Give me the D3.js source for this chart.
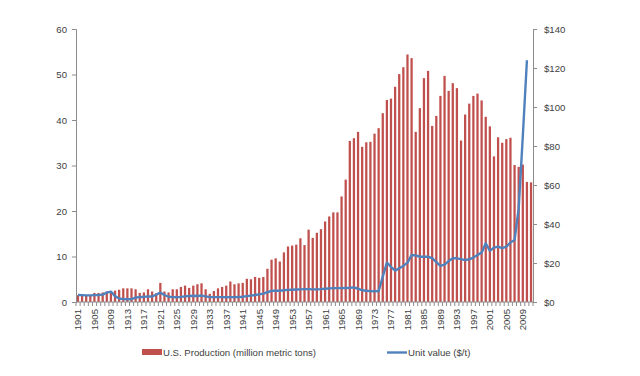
<!DOCTYPE html>
<html>
<head>
<meta charset="utf-8">
<script src="https://cdn.jsdelivr.net/npm/d3@7"></script>
<style>
  body { margin: 0; background: #fff; }
  svg text { font-family: "Liberation Sans", Arial, sans-serif; fill: #404040; }
</style>
</head>
<body>
<svg id="chart" width="640" height="376"></svg>
<script>
'use strict';

var firstYear = 1901;
var lastYear = 2011;

// U.S. production, million metric tons (1901..2011)
var production = [
  1.5, 1.4, 1.4, 1.5, 2.0, 2.0, 2.1, 2.3, 2.3, 2.5,
  2.7, 3.0, 3.0, 3.0, 2.8, 2.0, 2.1, 2.8, 2.3, 1.9,
  4.2, 2.3, 2.1, 2.8, 2.8, 3.3, 3.6, 3.1, 3.6, 3.9,
  4.1, 2.8, 1.8, 2.4, 3.0, 3.3, 3.6, 4.5, 3.9, 4.1,
  4.2, 5.1, 5.0, 5.5, 5.3, 5.5, 7.3, 9.3, 9.6, 8.9,
  10.9, 12.2, 12.4, 12.6, 14.0, 12.5, 15.9, 14.1, 15.2, 16.0,
  17.7, 18.8, 19.7, 19.7, 23.2, 26.9, 35.4, 36.0, 37.4, 34.1,
  35.1, 35.2, 37.0, 38.2, 41.5, 44.4, 44.7, 47.3, 50.1, 51.6,
  54.4, 53.6, 37.4, 42.6, 49.2, 50.8, 38.7, 40.9, 45.3, 49.7,
  46.4, 48.1, 47.0, 35.5, 41.2, 43.6, 45.3, 45.8, 44.3, 40.7,
  38.6, 32.0, 36.2, 35.0, 35.8, 36.1, 30.1, 29.7, 30.2, 26.4,
  26.3
];

// Unit value, $/t (1901..2010, no value for 2011)
var unitValue = [
  3.6, 3.5, 3.4, 3.4, 3.5, 3.6, 3.8, 4.8, 5.3, 3.0,
  1.8, 1.5, 1.4, 1.5, 2.2, 2.6, 2.6, 2.8, 2.8, 3.8,
  4.8, 3.6, 2.7, 2.5, 2.4, 2.6, 2.9, 3.1, 3.2, 3.1,
  3.3, 2.9, 2.5, 2.5, 2.5, 2.5, 2.4, 2.5, 2.5, 2.6,
  2.7, 3.0, 3.3, 3.6, 3.9, 4.3, 5.0, 5.7, 5.8, 5.8,
  6.0, 6.2, 6.3, 6.4, 6.5, 6.6, 6.6, 6.5, 6.5, 6.6,
  6.8, 7.0, 7.1, 7.1, 7.1, 7.2, 7.3, 7.5, 6.8, 6.0,
  5.8, 5.6, 5.5, 5.6, 13.0, 20.2, 18.0, 16.1, 17.3, 18.5,
  20.2, 24.1, 23.9, 23.2, 23.2, 23.2, 22.5, 20.5, 18.5, 19.2,
  21.0, 22.4, 22.4, 22.0, 21.5, 21.9, 22.8, 24.1, 25.3, 30.1,
  26.3, 27.9, 28.4, 27.6, 28.4, 30.5, 31.8, 48.0, 85.0, 124.0,
  null
];

var leftTicks = [0, 10, 20, 30, 40, 50, 60];
var rightTicks = [0, 20, 40, 60, 80, 100, 120, 140];

var years = d3.range(firstYear, lastYear + 1);
var labelYears = years.filter(function(y) { return (y - firstYear) % 4 === 0; });

var margin = { top: 29, left: 76, right: 107, bottom: 74 };
var width = 640, height = 376;
var innerW = width - margin.left - margin.right;
var innerH = height - margin.top - margin.bottom;

var svg = d3.select('#chart');
var g = svg.append('g').attr('transform', 'translate(' + margin.left + ',' + margin.top + ')');

var x = d3.scaleBand().domain(years).range([0, innerW]).paddingInner(0.45).paddingOuter(0.2);
var yLeft = d3.scaleLinear().domain([0, 60]).range([innerH, 0]);
var yRight = d3.scaleLinear().domain([0, 140]).range([innerH, 0]);

var axisColor = '#8c8c8c';
var fontSize = '9.6px';

// bars
g.selectAll('rect.bar')
    .data(years)
  .enter().append('rect')
    .attr('class', 'bar')
    .attr('x', function(d) { return x(d); })
    .attr('width', x.bandwidth())
    .attr('y', function(d, i) { return yLeft(production[i]); })
    .attr('height', function(d, i) { return innerH - yLeft(production[i]); })
    .attr('fill', '#C0504D');

// line
var line = d3.line()
    .defined(function(d) { return d.v !== null; })
    .x(function(d) { return x(d.year) + x.bandwidth() / 2; })
    .y(function(d) { return yRight(d.v); });

g.append('path')
    .datum(years.map(function(y, i) { return { year: y, v: unitValue[i] }; }))
    .attr('d', line)
    .attr('fill', 'none')
    .attr('stroke', '#4F81BD')
    .attr('stroke-width', 2.4)
    .attr('stroke-linejoin', 'round');

// left axis
var leftAxis = g.append('g')
    .call(d3.axisLeft(yLeft).tickValues(leftTicks).tickSize(4).tickPadding(5));
leftAxis.selectAll('text').style('font-size', fontSize);

// right axis
var rightAxis = g.append('g')
    .attr('transform', 'translate(' + innerW + ',0)')
    .call(d3.axisRight(yRight).tickValues(rightTicks).tickSize(4).tickPadding(7)
      .tickFormat(function(d) { return '$' + d; }));
rightAxis.selectAll('text').style('font-size', fontSize);

// bottom axis: tick at every category boundary, label every 4th year
var bottom = g.append('g').attr('transform', 'translate(0,' + innerH + ')');
bottom.append('line')
    .attr('x1', 0).attr('x2', innerW)
    .attr('stroke', axisColor);
var step = x.step();
bottom.selectAll('line.tick')
    .data(d3.range(years.length + 1))
  .enter().append('line')
    .attr('class', 'tick')
    .attr('x1', function(i) { return i * innerW / years.length; })
    .attr('x2', function(i) { return i * innerW / years.length; })
    .attr('y1', 0).attr('y2', 4)
    .attr('stroke', axisColor);
bottom.selectAll('text')
    .data(labelYears)
  .enter().append('text')
    .attr('transform', function(d) {
      return 'translate(' + (x(d) + x.bandwidth() / 2 + 3.5) + ',7) rotate(-90)';
    })
    .attr('text-anchor', 'end')
    .style('font-size', fontSize)
    .text(function(d) { return d; });

[leftAxis, rightAxis].forEach(function(a) {
  a.select('.domain').attr('stroke', axisColor);
  a.selectAll('.tick line').attr('stroke', axisColor);
});

// legend
var legend = svg.append('g').attr('transform', 'translate(0,352)');
legend.append('rect')
    .attr('x', 142).attr('y', -3).attr('width', 20).attr('height', 6)
    .attr('fill', '#C0504D');
legend.append('text')
    .attr('x', 163).attr('y', 3.5)
    .style('font-size', fontSize)
    .text('U.S. Production (million metric tons)');
legend.append('line')
    .attr('x1', 387).attr('x2', 407).attr('y1', 0.5).attr('y2', 0.5)
    .attr('stroke', '#4F81BD').attr('stroke-width', 2.4);
legend.append('text')
    .attr('x', 408).attr('y', 3.5)
    .style('font-size', fontSize)
    .text('Unit value ($/t)');
</script>
</body>
</html>
